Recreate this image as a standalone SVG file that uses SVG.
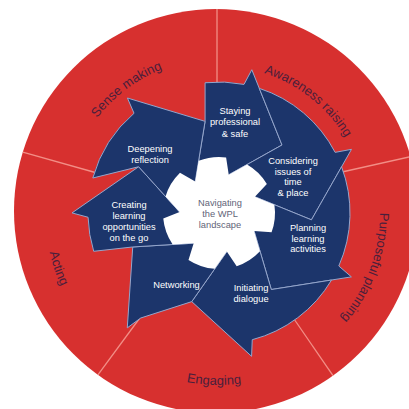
<svg xmlns="http://www.w3.org/2000/svg" width="409" height="409" viewBox="0 0 409 409">
<style>
.blade{fill:#1c356b;stroke:#93a6cc;stroke-width:1;stroke-linejoin:miter}
.bt{font-family:"Liberation Sans",Arial,sans-serif;font-size:9.3px;fill:#ffffff;text-anchor:middle}
.ct{font-family:"Liberation Sans",Arial,sans-serif;font-size:9.3px;fill:#5f6478;text-anchor:middle}
.rt{font-family:"Liberation Sans",Arial,sans-serif;font-size:13px;fill:#4a1f3c;text-anchor:middle}
.dv{stroke:#f28e86;stroke-width:1.3;fill:none}
</style>
<defs>
<path id="pSense" d="M65.5,231.3 A154.6,154.6 0 0 1 279.9,70.9"/>
<path id="pAware" d="M165.1,76.2 A147,147 0 0 1 364.4,234.7"/>
<path id="pPurp" d="M343.1,110.4 A161,161 0 0 1 245.9,371.7"/>
<path id="pEng" d="M67.6,294.5 A172,172 0 0 0 365.3,303.4"/>
<path id="pAct" d="M87.7,98.8 A174,174 0 0 0 185.8,383.8"/>
</defs>
<rect width="409" height="409" fill="#ffffff"/>
<circle id="ring" cx="216" cy="211" r="202" fill="#d7302f"/>
<g id="sector-dividers">
<line class="dv" x1="217" y1="84" x2="217" y2="9"/>
<line class="dv" x1="342" y1="172" x2="410.6" y2="156.6"/>
<line class="dv" x1="294" y1="319" x2="333" y2="375.6"/>
<line class="dv" x1="142" y1="315" x2="97.9" y2="374.9"/>
<line class="dv" x1="97" y1="173" x2="22.8" y2="152.2"/>
</g>
<g id="sense-making"><text class="rt"><textPath href="#pSense" startOffset="50%">Sense making</textPath></text></g>
<g id="awareness-raising"><text class="rt"><textPath href="#pAware" startOffset="50%">Awareness raising</textPath></text></g>
<g id="purposeful-planning"><text class="rt"><textPath href="#pPurp" startOffset="50%">Purposeful planning</textPath></text></g>
<g id="engaging"><text class="rt"><textPath href="#pEng" startOffset="50%">Engaging</textPath></text></g>
<g id="acting"><text class="rt"><textPath href="#pAct" startOffset="50%">Acting</textPath></text></g>

<g id="staying-professional">
<path class="blade" d="M205.08,82.74 A131,131 0 0 1 244.00,84.41 L251.82,69.71 L281.99,144.98 L228.73,174.82 L219,213 L195.23,181.58 L205.09,121.35 Z"/>
</g>
<g id="considering-issues">
<path class="blade" d="M259.29,88.35 A131,131 0 0 1 335.13,152.37 L351.49,149.32 L311.45,219.84 L254.92,196.81 L219,213 L228.73,174.82 L281.99,144.98 Z"/>
</g>
<g id="planning-learning">
<path class="blade" d="M341.57,166.75 A131,131 0 0 1 338.81,265.99 L351.39,276.88 L271.30,289.54 L254.06,230.99 L219,213 L254.92,196.81 L311.45,219.84 Z"/>
</g>
<g id="initiating-dialogue">
<path class="blade" d="M331.57,280.01 A131,131 0 0 1 252.26,339.71 L251.59,356.34 L191.76,301.61 L226.79,251.62 L219,213 L254.06,230.99 L271.30,289.54 Z"/>
</g>
<g id="networking">
<path class="blade" d="M191.76,301.61 L140.68,318.02 L127.27,327.87 L132.74,246.96 L193.68,243.19 L219,213 L226.79,251.62 Z"/>
</g>
<g id="creating-opportunities">
<path class="blade" d="M93.7,251.3 A131,131 0 0 1 88.07,217.25 L72.00,212.90 L138.67,166.73 L179.61,212.01 L219,213 L193.68,243.19 L132.74,246.96 Z"/>
</g>
<g id="deepening-reflection">
<path class="blade" d="M92.8,178.0 A131,131 0 0 1 134.04,113.28 L127.43,98.00 L205.09,121.35 L195.23,181.58 L219,213 L179.61,212.01 L138.67,166.73 Z"/>
</g>

<g id="navigating-centre">
<path fill="#ffffff" d="M247.08,164.55 A56,56 0 0 1 266.87,183.93 L254.92,196.81 L274.39,204.75 A56,56 0 0 1 271.57,232.30 L254.06,230.99 L259.98,251.16 A56,56 0 0 1 236.69,266.13 L226.79,251.62 L214.71,268.84 A56,56 0 0 1 188.49,259.96 L193.68,243.19 L172.67,244.46 A56,56 0 0 1 163.26,218.43 L179.61,212.01 L165.52,196.40 A56,56 0 0 1 179.99,172.82 L195.23,181.58 L198.63,160.84 A56,56 0 0 1 226.12,157.45 L228.73,174.82 Z"/>
<text class="ct" x="220" y="206">Navigating</text>
<text class="ct" x="220" y="216.5">the WPL</text>
<text class="ct" x="220" y="228">landscape</text>
</g>

<g id="blade-labels">
<text class="bt" x="235" y="113.5">Staying</text>
<text class="bt" x="235" y="125">professional</text>
<text class="bt" x="235" y="136.5">&amp; safe</text>
<text class="bt" x="293" y="164">Considering</text>
<text class="bt" x="293" y="174.5">issues of</text>
<text class="bt" x="293" y="185">time</text>
<text class="bt" x="293" y="195.5">&amp; place</text>
<text class="bt" x="308" y="231.3">Planning</text>
<text class="bt" x="308" y="241.6">learning</text>
<text class="bt" x="308" y="252">activities</text>
<text class="bt" x="251" y="290.5">Initiating</text>
<text class="bt" x="251" y="301.5">dialogue</text>
<text class="bt" x="176.5" y="288">Networking</text>
<text class="bt" x="129" y="207.8">Creating</text>
<text class="bt" x="129" y="219">learning</text>
<text class="bt" x="129" y="230">opportunities</text>
<text class="bt" x="129" y="240.5">on the go</text>
<text class="bt" x="150" y="152.3">Deepening</text>
<text class="bt" x="150" y="163.3">reflection</text>
</g>
</svg>
